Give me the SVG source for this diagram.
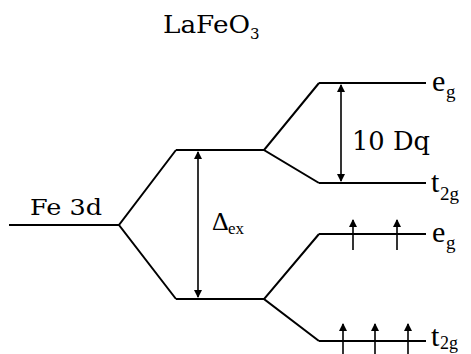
<svg xmlns="http://www.w3.org/2000/svg" width="471" height="354" viewBox="0 0 471 354">
<style>
.lv{stroke:#000;stroke-width:2;fill:none}
.ar{stroke:#000;stroke-width:1.6;fill:none}
.bk{font-family:"DejaVu Serif","Liberation Serif",serif;fill:#000}
.tm{font-family:"Liberation Serif","Times New Roman",serif;fill:#000}
.big{font-size:30px}
.sub{font-size:19px}
</style>
<defs>
<marker id="ah" viewBox="0 0 8 10" refX="7" refY="5" markerWidth="8" markerHeight="10" markerUnits="userSpaceOnUse" orient="auto-start-reverse">
<path d="M0,1 L8,5 L0,9 Z" fill="#000"/>
</marker>
</defs>
<rect width="471" height="354" fill="#fff"/>
<g id="title"><text class="bk" x="163" y="33" font-size="24" textLength="87" lengthAdjust="spacingAndGlyphs">LaFeO</text><text class="bk" x="250" y="39" font-size="15">3</text></g>
<g id="fe3d"><line class="lv" x1="9" y1="225" x2="119" y2="225"/><text class="bk" x="30" y="215" font-size="23" textLength="72" lengthAdjust="spacingAndGlyphs">Fe 3d</text></g>
<g id="upper"><line class="lv" x1="176" y1="150" x2="264" y2="150"/></g>
<g id="lower"><line class="lv" x1="176" y1="299" x2="264" y2="299"/></g>
<g id="eg-up"><line class="lv" x1="319" y1="83" x2="426" y2="83"/><text class="tm big" x="432" y="91">e</text><text class="tm sub" x="446" y="98">g</text></g>
<g id="t2g-up"><line class="lv" x1="319" y1="183" x2="426" y2="183"/><text class="tm big" x="431" y="192">t</text><text class="tm sub" x="440" y="200">2g</text></g>
<g id="eg-dn"><line class="lv" x1="319" y1="234" x2="426" y2="234"/><text class="tm big" x="432" y="242">e</text><text class="tm sub" x="446" y="249">g</text></g>
<g id="t2g-dn"><line class="lv" x1="319" y1="341" x2="426" y2="341"/><text class="tm big" x="431" y="346">t</text><text class="tm" x="440" y="349" font-size="18">2g</text></g>
<g id="labels">
<text class="tm" x="212" y="230" font-size="26">Δ</text><text class="tm" x="228" y="234" font-size="17">ex</text>
<text class="bk" x="352" y="150" font-size="26" textLength="78" lengthAdjust="spacingAndGlyphs">10 Dq</text>
</g>
<g id="connectors">
<polyline class="lv" points="176,150 119,225 176,299"/>
<polyline class="lv" points="319,83 264,150 319,183"/>
<polyline class="lv" points="319,234 264,299 319,341"/>
<line class="ar" x1="198" y1="152" x2="198" y2="297" marker-start="url(#ah)" marker-end="url(#ah)"/>
<line class="ar" x1="341" y1="85" x2="341" y2="181" marker-start="url(#ah)" marker-end="url(#ah)"/>
<line class="ar" x1="353" y1="250" x2="353" y2="220" marker-end="url(#ah)"/>
<line class="ar" x1="397" y1="250" x2="397" y2="220" marker-end="url(#ah)"/>
<line class="ar" x1="343" y1="354" x2="343" y2="324" marker-end="url(#ah)"/>
<line class="ar" x1="375" y1="354" x2="375" y2="324" marker-end="url(#ah)"/>
<line class="ar" x1="408" y1="354" x2="408" y2="324" marker-end="url(#ah)"/>
</g>
</svg>
